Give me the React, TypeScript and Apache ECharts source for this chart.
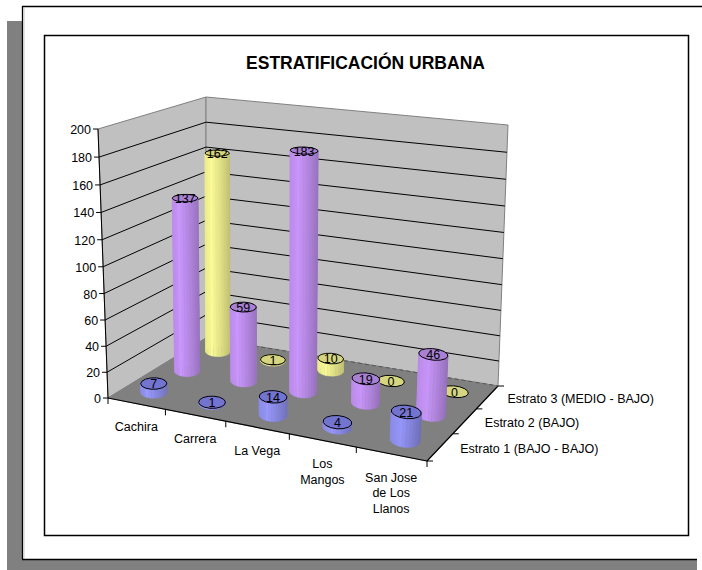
import React, { useEffect, useRef } from "react";
import * as echarts from "echarts";

const categories = ["Cachira", "Carrera", "La Vega", "Los\nMangos", "San Jose\nde Los\nLlanos"];
const seriesNames = ["Estrato 1 (BAJO - BAJO)", "Estrato 2 (BAJO)", "Estrato 3 (MEDIO - BAJO)"];
const estrato1 = [7, 1, 14, 4, 21];
const estrato2 = [137, 59, 183, 19, 46];
const estrato3 = [162, 1, 10, 0, 0];
const valueTicks = [0, 20, 40, 60, 80, 100, 120, 140, 160, 180, 200];
const titleText = "ESTRATIFICACIÓN URBANA";

const FONT = "'Liberation Sans', Arial, sans-serif";

type Pt = [number, number];
// projected corners of the 3D box: front-left, front-right, back-right, back-left
const floorQuad: Pt[] = [[108, 398], [427, 461], [498, 386], [206, 338]];
const ceilQuad: Pt[] = [[98, 129], [445, 170], [508, 125], [206, 97]];

function homography(q: Pt[]) {
  const [[x0, y0], [x1, y1], [x2, y2], [x3, y3]] = q;
  const dx1 = x1 - x2, dx2 = x3 - x2, sx = x0 - x1 + x2 - x3;
  const dy1 = y1 - y2, dy2 = y3 - y2, sy = y0 - y1 + y2 - y3;
  const den = dx1 * dy2 - dx2 * dy1;
  const g = (sx * dy2 - dx2 * sy) / den;
  const h = (dx1 * sy - sx * dy1) / den;
  const a = x1 - x0 + g * x1, b = x3 - x0 + h * x3;
  const d = y1 - y0 + g * y1, e = y3 - y0 + h * y3;
  return (u: number, v: number): Pt => {
    const t = g * u + h * v + 1;
    return [(a * u + b * v + x0) / t, (d * u + e * v + y0) / t];
  };
}
const floorH = homography(floorQuad);
const ceilH = homography(ceilQuad);
const PERSP = 1.05;
// u across categories, v front to back, w up the value axis (all 0..1)
function project(u: number, v: number, w: number): Pt {
  const k = w / (w + (1 - w) * PERSP);
  const f = floorH(u, v), c = ceilH(u, v);
  return [f[0] + (c[0] - f[0]) * k, f[1] + (c[1] - f[1]) * k];
}

const RU = 0.042, RV = 0.075, SKEW = 0.2, SEG = 28;
const bodyColors = ["#9999ff", "#cc99ff", "#ffff99"];
const capColors = ["#7373d0", "#a880d4", "#d6d680"];

function shade(hex: string, f: number) {
  const n = parseInt(hex.slice(1), 16);
  const c = (s: number) => Math.round(((n >> s) & 255) * f);
  return `rgb(${c(16)},${c(8)},${c(0)})`;
}

function renderBar(sIdx: number) {
  return (params: any, api: any) => {
    const cs = params.coordSys;
    const p0 = api.coord([api.value(0), 0]);
    const p1 = api.coord([api.value(0), api.value(1)]);
    const u = (p0[0] - cs.x) / cs.width;
    const w = 1 - (p1[1] - cs.y) / cs.height;
    const v = (sIdx + 0.5) / seriesNames.length;
    const children: any[] = [];
    const ring = (wv: number) => {
      const out: Pt[] = [];
      for (let i = 0; i < SEG; i++) {
        const t = (i / SEG) * Math.PI * 2;
        out.push(project(u + RU * (Math.cos(t) - SKEW * Math.sin(t)), v + RV * Math.sin(t), wv));
      }
      return out;
    };
    const low = ring(0), high = ring(w);
    if (w > 0) {
      const strips: { y: number; pts: Pt[]; x: number }[] = [];
      for (let i = 0; i < SEG; i++) {
        const j = (i + 1) % SEG;
        strips.push({
          y: (low[i][1] + low[j][1]) / 2,
          x: (low[i][0] + low[j][0]) / 2,
          pts: [low[i], low[j], high[j], high[i]],
        });
      }
      strips.sort((a, b) => a.y - b.y);
      const c = project(u, v, 0);
      const halfW = 15;
      strips.forEach((s) => {
        const d = (s.x - c[0]) / halfW; // -1 left .. 1 right
        const f = d < -0.45 ? 0.96 + (d + 0.45) * 0.1 : 1 - Math.max(0, d + 0.45) * 0.19;
        const col = shade(bodyColors[sIdx], f);
        children.push({
          type: "polygon",
          shape: { points: s.pts },
          style: { fill: col, stroke: col, lineWidth: 0.4 },
        });
      });
    }
    children.push({
      type: "polygon",
      shape: { points: high.filter((_, i) => i % 2 === 0) },
      style: { fill: capColors[sIdx], stroke: "#000", lineWidth: 1 },
    });
    const ct = project(u, v, w);
    children.push({
      type: "text",
      style: {
        x: ct[0], y: ct[1] + 1, text: String(api.value(1)), fill: "#000",
        font: `12.5px ${FONT}`, align: "center", verticalAlign: "middle",
      },
    });
    return { type: "group", children };
  };
}

function line(a: Pt, b: Pt, stroke: string, lineWidth = 1, extra: any = {}) {
  return {
    type: "line",
    shape: { x1: a[0], y1: a[1], x2: b[0], y2: b[1] },
    style: { stroke, lineWidth, ...extra },
  };
}

function renderBox() {
  const c: any[] = [];
  const wall = "#c0c0c0", edge = "#808080";
  c.push({ type: "polygon", shape: { points: [project(0, 0, 0), project(0, 1, 0), project(0, 1, 1), project(0, 0, 1)] }, style: { fill: wall, stroke: edge, lineWidth: 1 } });
  c.push({ type: "polygon", shape: { points: [project(0, 1, 0), project(1, 1, 0), project(1, 1, 1), project(0, 1, 1)] }, style: { fill: wall, stroke: edge, lineWidth: 1 } });
  c.push({ type: "polygon", shape: { points: [project(0, 0, 0), project(1, 0, 0), project(1, 1, 0), project(0, 1, 0)] }, style: { fill: edge, stroke: edge, lineWidth: 1 } });
  const top = valueTicks[valueTicks.length - 1];
  valueTicks.forEach((t) => {
    const w = t / top;
    const a = project(0, 0, w), b = project(0, 1, w), d = project(1, 1, w);
    if (t > 0 && t < top) {
      c.push(line(a, b, "#000"));
      c.push(line(b, d, "#000"));
    }
    c.push(line([a[0] - 5, a[1]], a, "#000"));
    c.push({
      type: "text",
      style: { x: a[0] - 7, y: a[1] + 1, text: String(t), fill: "#000", font: `12.5px ${FONT}`, align: "right", verticalAlign: "middle" },
    });
  });
  // dark axis edges
  c.push(line(project(0, 0, 0), project(0, 0, 1), "#000"));
  c.push(line(project(0, 0, 0), project(1, 0, 0), "#000", 1.2));
  c.push(line(project(1, 0, 0), project(1, 1, 0), "#000", 1.2));
  c.push(line(project(0, 1, 0), project(1, 1, 0), "#555", 1, { lineDash: [4, 3] }));
  // category ticks and labels
  for (let i = 0; i <= categories.length; i++) {
    const p = project(i / categories.length, 0, 0);
    c.push(line(p, [p[0], p[1] + 6], "#000"));
  }
  categories.forEach((name, i) => {
    const p = project((i + 0.5) / categories.length, 0, 0);
    c.push({
      type: "text",
      style: { x: p[0], y: p[1] + 16, text: name, fill: "#000", font: `12.5px ${FONT}`, align: "center", verticalAlign: "top", lineHeight: 15.7 },
    });
  });
  // depth ticks and labels
  for (let i = 0; i <= seriesNames.length; i++) {
    const p = project(1, i / seriesNames.length, 0);
    c.push(line(p, [p[0] + 6, p[1]], "#000"));
  }
  seriesNames.forEach((name, i) => {
    const p = project(1, (i + 0.5) / seriesNames.length, 0);
    c.push({
      type: "text",
      style: { x: p[0] + 20, y: p[1] + 2, text: name, fill: "#000", font: `12.5px ${FONT}`, align: "left", verticalAlign: "middle" },
    });
  });
  return { type: "group", children: c };
}

const rows = (vals: number[]) => vals.map((v, i) => [i, v]);

export default function App() {
  const ref = useRef<HTMLDivElement>(null);
  useEffect(() => {
    const chart = echarts.init(ref.current!, null, { renderer: "svg" });
    chart.setOption({
      animation: false,
      backgroundColor: "#fff",
      title: {
        text: titleText, left: 360.5, top: 49, textAlign: "center",
        textStyle: { fontFamily: FONT, fontSize: 17.5, fontWeight: "bold", color: "#000" },
      },
      grid: { left: 108, right: 200, top: 129, bottom: 172 },
      xAxis: { type: "category", data: categories, show: false },
      yAxis: { type: "value", min: 0, max: 200, interval: 20, show: false },
      graphic: [
        { type: "rect", z: -4, shape: { x: 7, y: 21, width: 690, height: 549 }, style: { fill: "#808080" } },
        { type: "rect", z: -3, shape: { x: 22, y: 6, width: 680, height: 553 }, style: { fill: "#fff" } },
        { type: "line", z: -2, shape: { x1: 22, y1: 6.5, x2: 702, y2: 6.5 }, style: { stroke: "#000", lineWidth: 1.3 } },
        { type: "line", z: -2, shape: { x1: 22.5, y1: 6, x2: 22.5, y2: 559 }, style: { stroke: "#000", lineWidth: 1.3 } },
        { type: "line", z: -2, shape: { x1: 24, y1: 8, x2: 24, y2: 558 }, style: { stroke: "#c8c8c8", lineWidth: 1 } },
        { type: "line", z: -2, shape: { x1: 22, y1: 559.5, x2: 697, y2: 559.5 }, style: { stroke: "#000", lineWidth: 1.3 } },
        { type: "rect", z: -1, shape: { x: 44.5, y: 35.5, width: 644, height: 500 }, style: { fill: "#fff", stroke: "#000", lineWidth: 1.5 } },
      ],
      series: [
        { type: "custom", silent: true, z: 1, data: [[0, 0]], renderItem: renderBox, coordinateSystem: "cartesian2d" },
        { type: "custom", silent: true, z: 2, name: seriesNames[2], data: rows(estrato3), renderItem: renderBar(2), coordinateSystem: "cartesian2d" },
        { type: "custom", silent: true, z: 3, name: seriesNames[1], data: rows(estrato2), renderItem: renderBar(1), coordinateSystem: "cartesian2d" },
        { type: "custom", silent: true, z: 4, name: seriesNames[0], data: rows(estrato1), renderItem: renderBar(0), coordinateSystem: "cartesian2d" },
      ],
    });
    return () => chart.dispose();
  }, []);
  return <div ref={ref} style={{ position: "absolute", left: 0, top: 0, width: 702, height: 570 }} />;
}
